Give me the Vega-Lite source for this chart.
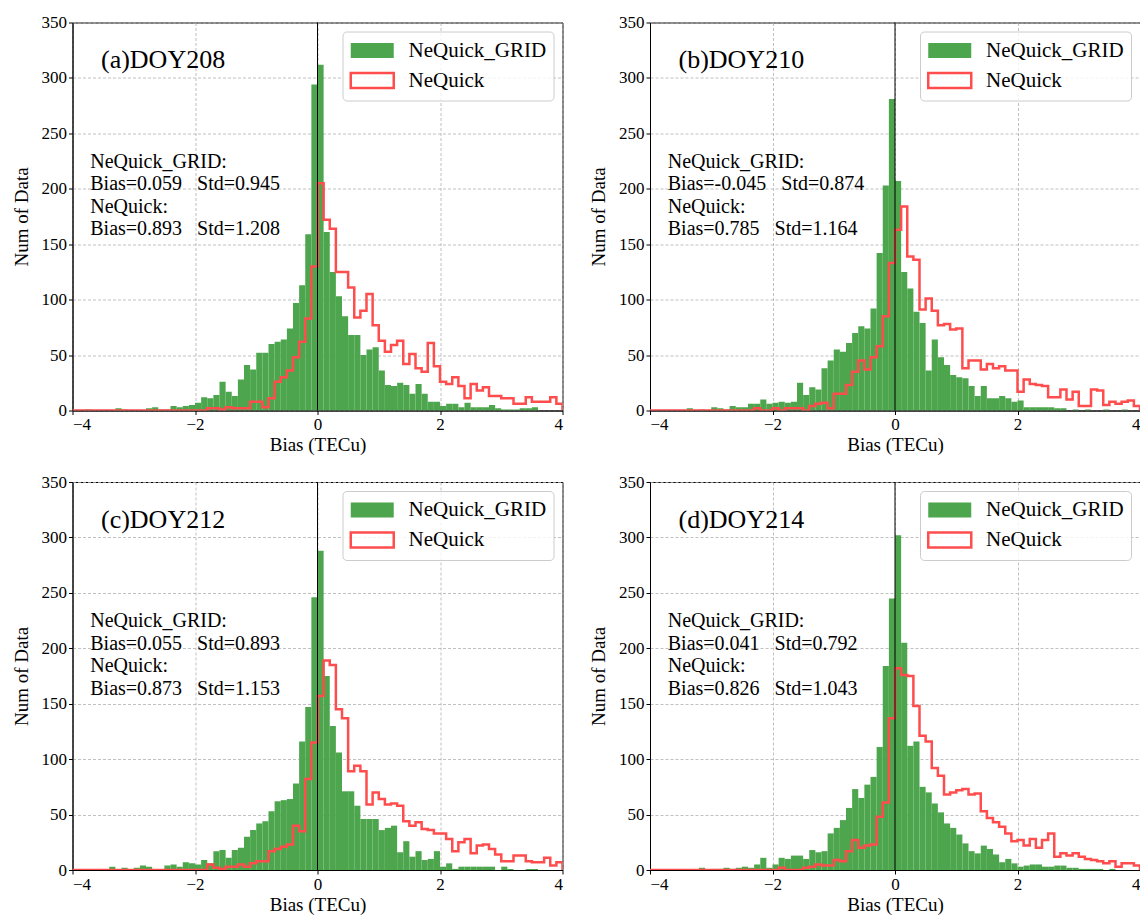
{
"$schema": "https://vega.github.io/schema/vega-lite/v6.json",
"background": "white",
"padding": {"left": 11.5, "top": 12.5, "right": 0, "bottom": 0},
"data": {"values": [
{"b0":-4,"b1":-3.9,"ga":0,"ra":0,"gb":0,"rb":0,"gc":0,"rc":0,"gd":0,"rd":0},
{"b0":-3.9,"b1":-3.8,"ga":0,"ra":0,"gb":0,"rb":0,"gc":0,"rc":0,"gd":0,"rd":0},
{"b0":-3.8,"b1":-3.7,"ga":1,"ra":0,"gb":0,"rb":0,"gc":1,"rc":0,"gd":0,"rd":0},
{"b0":-3.7,"b1":-3.6,"ga":0,"ra":0,"gb":0,"rb":0,"gc":0,"rc":0,"gd":0,"rd":0},
{"b0":-3.6,"b1":-3.5,"ga":0,"ra":0,"gb":0,"rb":0,"gc":0,"rc":0,"gd":0,"rd":0},
{"b0":-3.5,"b1":-3.4,"ga":0,"ra":0,"gb":0,"rb":0,"gc":0,"rc":0,"gd":0,"rd":0},
{"b0":-3.4,"b1":-3.3,"ga":0,"ra":0,"gb":2,"rb":0,"gc":3,"rc":0,"gd":0,"rd":0},
{"b0":-3.3,"b1":-3.2,"ga":2,"ra":0,"gb":0,"rb":0,"gc":0,"rc":0,"gd":0,"rd":0},
{"b0":-3.2,"b1":-3.1,"ga":1,"ra":0,"gb":1,"rb":0,"gc":2,"rc":0,"gd":2,"rd":0},
{"b0":-3.1,"b1":-3,"ga":0,"ra":0,"gb":0,"rb":0,"gc":0,"rc":0,"gd":0,"rd":0},
{"b0":-3,"b1":-2.9,"ga":0,"ra":0,"gb":3,"rb":0,"gc":2,"rc":0,"gd":1,"rd":0},
{"b0":-2.9,"b1":-2.8,"ga":0,"ra":0,"gb":2,"rb":0,"gc":4,"rc":0,"gd":1,"rd":0},
{"b0":-2.8,"b1":-2.7,"ga":2,"ra":0,"gb":1,"rb":0,"gc":3,"rc":0,"gd":2,"rd":0},
{"b0":-2.7,"b1":-2.6,"ga":3,"ra":0,"gb":4,"rb":0,"gc":1,"rc":0,"gd":1,"rd":0},
{"b0":-2.6,"b1":-2.5,"ga":1,"ra":0,"gb":3,"rb":0,"gc":1,"rc":0,"gd":2,"rd":0},
{"b0":-2.5,"b1":-2.4,"ga":1,"ra":0,"gb":3,"rb":0,"gc":4,"rc":0,"gd":3,"rd":0},
{"b0":-2.4,"b1":-2.3,"ga":4,"ra":0,"gb":6,"rb":0,"gc":5,"rc":0,"gd":2,"rd":0},
{"b0":-2.3,"b1":-2.2,"ga":3,"ra":0,"gb":6,"rb":2,"gc":3,"rc":0,"gd":5,"rd":0},
{"b0":-2.2,"b1":-2.1,"ga":4,"ra":0,"gb":10,"rb":0,"gc":7,"rc":0,"gd":11,"rd":0},
{"b0":-2.1,"b1":-2,"ga":5,"ra":0,"gb":6,"rb":0,"gc":6,"rc":0,"gd":2,"rd":0},
{"b0":-2,"b1":-1.9,"ga":7,"ra":0,"gb":7,"rb":2,"gc":5,"rc":0,"gd":5,"rd":0},
{"b0":-1.9,"b1":-1.8,"ga":12,"ra":0,"gb":8,"rb":0,"gc":9,"rc":0,"gd":11,"rd":2},
{"b0":-1.8,"b1":-1.7,"ga":11,"ra":2,"gb":7,"rb":2,"gc":6,"rc":5,"gd":10,"rd":0},
{"b0":-1.7,"b1":-1.6,"ga":14,"ra":2,"gb":8,"rb":2,"gc":17,"rc":2,"gd":13,"rd":0},
{"b0":-1.6,"b1":-1.5,"ga":26,"ra":1,"gb":25,"rb":2,"gc":18,"rc":1,"gd":13,"rd":0},
{"b0":-1.5,"b1":-1.4,"ga":17,"ra":3,"gb":14,"rb":0,"gc":11,"rc":3,"gd":10,"rd":2},
{"b0":-1.4,"b1":-1.3,"ga":13,"ra":2,"gb":21,"rb":4,"gc":18,"rc":3,"gd":18,"rd":3},
{"b0":-1.3,"b1":-1.2,"ga":28,"ra":2,"gb":19,"rb":6,"gc":20,"rc":5,"gd":16,"rd":5},
{"b0":-1.2,"b1":-1.1,"ga":41,"ra":2,"gb":38,"rb":7,"gc":30,"rc":3,"gd":17,"rd":4},
{"b0":-1.1,"b1":-1,"ga":37,"ra":8,"gb":45,"rb":2,"gc":36,"rc":6,"gd":33,"rd":4},
{"b0":-1,"b1":-0.9,"ga":52,"ra":8,"gb":55,"rb":15,"gc":42,"rc":8,"gd":38,"rd":9},
{"b0":-0.9,"b1":-0.8,"ga":52,"ra":3,"gb":53,"rb":15,"gc":44,"rc":8,"gd":45,"rd":8},
{"b0":-0.8,"b1":-0.7,"ga":60,"ra":11,"gb":61,"rb":23,"gc":53,"rc":17,"gd":56,"rd":17},
{"b0":-0.7,"b1":-0.6,"ga":62,"ra":26,"gb":70,"rb":35,"gc":62,"rc":19,"gd":73,"rd":27},
{"b0":-0.6,"b1":-0.5,"ga":64,"ra":30,"gb":76,"rb":45,"gc":63,"rc":21,"gd":65,"rd":20},
{"b0":-0.5,"b1":-0.4,"ga":74,"ra":36,"gb":74,"rb":37,"gc":64,"rc":23,"gd":77,"rd":22},
{"b0":-0.4,"b1":-0.3,"ga":97,"ra":48,"gb":92,"rb":48,"gc":78,"rc":40,"gd":84,"rd":23},
{"b0":-0.3,"b1":-0.2,"ga":113,"ra":62,"gb":142,"rb":58,"gc":116,"rc":35,"gd":111,"rd":48},
{"b0":-0.2,"b1":-0.1,"ga":159,"ra":83,"gb":203,"rb":85,"gc":147,"rc":82,"gd":184,"rd":61},
{"b0":-0.1,"b1":0,"ga":294,"ra":130,"gb":281,"rb":133,"gc":246,"rc":115,"gd":245,"rd":137},
{"b0":0,"b1":0.1,"ga":312,"ra":205,"gb":207,"rb":163,"gc":288,"rc":157,"gd":302,"rd":182},
{"b0":0.1,"b1":0.2,"ga":161,"ra":172,"gb":125,"rb":184,"gc":175,"rc":189,"gd":205,"rd":176},
{"b0":0.2,"b1":0.3,"ga":125,"ra":164,"gb":110,"rb":139,"gc":130,"rc":185,"gd":112,"rd":175},
{"b0":0.3,"b1":0.4,"ga":103,"ra":125,"gb":89,"rb":136,"gc":106,"rc":145,"gd":116,"rd":148},
{"b0":0.4,"b1":0.5,"ga":85,"ra":125,"gb":79,"rb":91,"gc":71,"rc":137,"gd":75,"rd":121},
{"b0":0.5,"b1":0.6,"ga":68,"ra":111,"gb":36,"rb":101,"gc":71,"rc":89,"gd":70,"rd":116},
{"b0":0.6,"b1":0.7,"ga":68,"ra":84,"gb":64,"rb":90,"gc":58,"rc":94,"gd":60,"rd":92},
{"b0":0.7,"b1":0.8,"ga":50,"ra":90,"gb":48,"rb":77,"gc":46,"rc":89,"gd":52,"rd":85},
{"b0":0.8,"b1":0.9,"ga":55,"ra":105,"gb":41,"rb":78,"gc":46,"rc":59,"gd":42,"rd":68},
{"b0":0.9,"b1":1,"ga":57,"ra":77,"gb":32,"rb":73,"gc":46,"rc":70,"gd":38,"rd":70},
{"b0":1,"b1":1.1,"ga":36,"ra":63,"gb":30,"rb":74,"gc":36,"rc":64,"gd":32,"rd":72},
{"b0":1.1,"b1":1.2,"ga":23,"ra":53,"gb":29,"rb":38,"gc":38,"rc":59,"gd":24,"rd":73},
{"b0":1.2,"b1":1.3,"ga":22,"ra":59,"gb":22,"rb":45,"gc":40,"rc":60,"gd":17,"rd":68},
{"b0":1.3,"b1":1.4,"ga":25,"ra":63,"gb":13,"rb":45,"gc":16,"rc":58,"gd":15,"rd":69},
{"b0":1.4,"b1":1.5,"ga":23,"ra":42,"gb":22,"rb":37,"gc":26,"rc":44,"gd":22,"rd":53},
{"b0":1.5,"b1":1.6,"ga":15,"ra":51,"gb":11,"rb":42,"gc":12,"rc":40,"gd":19,"rd":47},
{"b0":1.6,"b1":1.7,"ga":24,"ra":38,"gb":11,"rb":38,"gc":17,"rc":43,"gd":14,"rd":43},
{"b0":1.7,"b1":1.8,"ga":15,"ra":35,"gb":13,"rb":40,"gc":9,"rc":37,"gd":7,"rd":39},
{"b0":1.8,"b1":1.9,"ga":8,"ra":61,"gb":11,"rb":36,"gc":10,"rc":36,"gd":10,"rd":33},
{"b0":1.9,"b1":2,"ga":8,"ra":40,"gb":8,"rb":36,"gc":17,"rc":33,"gd":6,"rd":26},
{"b0":2,"b1":2.1,"ga":4,"ra":26,"gb":9,"rb":17,"gc":3,"rc":33,"gd":3,"rd":27},
{"b0":2.1,"b1":2.2,"ga":6,"ra":24,"gb":3,"rb":28,"gc":6,"rc":28,"gd":4,"rd":22},
{"b0":2.2,"b1":2.3,"ga":6,"ra":30,"gb":3,"rb":24,"gc":1,"rc":17,"gd":5,"rd":28},
{"b0":2.3,"b1":2.4,"ga":3,"ra":22,"gb":3,"rb":23,"gc":3,"rc":25,"gd":5,"rd":20},
{"b0":2.4,"b1":2.5,"ga":7,"ra":11,"gb":3,"rb":22,"gc":3,"rc":28,"gd":3,"rd":27},
{"b0":2.5,"b1":2.6,"ga":3,"ra":24,"gb":3,"rb":12,"gc":3,"rc":15,"gd":3,"rd":33},
{"b0":2.6,"b1":2.7,"ga":3,"ra":18,"gb":2,"rb":12,"gc":3,"rc":22,"gd":4,"rd":12},
{"b0":2.7,"b1":2.8,"ga":3,"ra":21,"gb":2,"rb":19,"gc":3,"rc":23,"gd":4,"rd":15},
{"b0":2.8,"b1":2.9,"ga":5,"ra":13,"gb":0,"rb":10,"gc":3,"rc":19,"gd":2,"rd":13},
{"b0":2.9,"b1":3,"ga":2,"ra":13,"gb":1,"rb":17,"gc":0,"rc":14,"gd":2,"rd":15},
{"b0":3,"b1":3.1,"ga":1,"ra":11,"gb":0,"rb":4,"gc":3,"rc":8,"gd":1,"rd":12},
{"b0":3.1,"b1":3.2,"ga":1,"ra":11,"gb":1,"rb":4,"gc":1,"rc":8,"gd":1,"rd":10},
{"b0":3.2,"b1":3.3,"ga":1,"ra":6,"gb":0,"rb":19,"gc":0,"rc":13,"gd":1,"rd":9},
{"b0":3.3,"b1":3.4,"ga":2,"ra":6,"gb":0,"rb":18,"gc":0,"rc":13,"gd":1,"rd":8},
{"b0":3.4,"b1":3.5,"ga":2,"ra":12,"gb":1,"rb":5,"gc":1,"rc":8,"gd":0,"rd":6},
{"b0":3.5,"b1":3.6,"ga":3,"ra":8,"gb":0,"rb":8,"gc":1,"rc":7,"gd":1,"rd":8},
{"b0":3.6,"b1":3.7,"ga":0,"ra":8,"gb":0,"rb":6,"gc":0,"rc":7,"gd":0,"rd":3},
{"b0":3.7,"b1":3.8,"ga":0,"ra":8,"gb":1,"rb":8,"gc":0,"rc":11,"gd":0,"rd":6},
{"b0":3.8,"b1":3.9,"ga":0,"ra":12,"gb":0,"rb":9,"gc":0,"rc":4,"gd":0,"rd":6},
{"b0":3.9,"b1":4,"ga":0,"ra":6,"gb":0,"rb":4,"gc":0,"rc":7,"gd":0,"rd":4},
{"b0":4,"b1":4.1,"ga":0,"ra":0,"gb":0,"rb":0,"gc":0,"rc":0,"gd":0,"rd":0}
]},
"columns": 2,
"spacing": {"row": 71.5, "column": 87.5},
"bounds": "flush",
"resolve": {"scale": {"fill": "independent", "stroke": "independent"}, "legend": {"fill": "independent", "stroke": "independent"}},
"concat": [
{"width": 490, "height": 388, "layer": [
 {"mark": {"type": "bar", "clip": true}, "encoding": {
  "x": {"field": "b0", "type": "quantitative", "scale": {"domain": [-4, 4], "nice": false, "zero": false}, "axis": {"values": [-4, -2, 0, 2, 4], "format": "d", "title": "Bias (TECu)"}},
  "x2": {"field": "b1"},
  "y": {"field": "ga", "type": "quantitative", "scale": {"domain": [0, 350], "nice": false}, "axis": {"values": [0, 50, 100, 150, 200, 250, 300, 350], "format": "d", "title": "Num of Data"}},
  "y2": {"datum": 0},
  "fill": {"datum": "NeQuick_GRID", "type": "nominal", "scale": {"domain": ["NeQuick_GRID", "NeQuick"], "range": ["#4da64d", "transparent"]},
   "legend": {"orient": "top-right", "offset": 9, "title": null, "symbolType": "M-1,-0.7H3V0.7H-1Z", "symbolSize": 462, "symbolStrokeWidth": 2.5, "symbolOpacity": 1, "labelOffset": 35, "labelFont": "Liberation Serif", "labelFontSize": 21, "labelColor": "black", "rowPadding": 4, "padding": 7, "fillColor": "rgba(255,255,255,0.8)", "strokeColor": "#cccccc", "cornerRadius": 4}}
 }},
 {"mark": {"type": "line", "interpolate": "step-after", "strokeWidth": 2.5, "clip": true}, "encoding": {
  "x": {"field": "b0", "type": "quantitative"}, "y": {"field": "ra", "type": "quantitative"},
  "stroke": {"datum": "NeQuick", "type": "nominal", "scale": {"domain": ["NeQuick_GRID", "NeQuick"], "range": ["transparent", "#ff4d4d"]},
   "legend": {"orient": "top-right", "offset": 9, "title": null, "symbolType": "M-1,-0.7H3V0.7H-1Z", "symbolSize": 462, "symbolStrokeWidth": 2.5, "symbolOpacity": 1, "labelOffset": 35, "labelFont": "Liberation Serif", "labelFontSize": 21, "labelColor": "black", "rowPadding": 4, "padding": 7, "fillColor": "rgba(255,255,255,0.8)", "strokeColor": "#cccccc", "cornerRadius": 4}}}},
 {"data": {"values": [{}]}, "mark": {"type": "rule", "color": "black", "strokeWidth": 1}, "encoding": {"x": {"datum": 0}}},
 {"data": {"values": [{}]}, "mark": {"type": "text", "text": "(a)DOY208", "font": "Liberation Serif", "fontSize": 26, "align": "left", "baseline": "middle", "color": "black"}, "encoding": {"x": {"datum": -3.535}, "y": {"datum": 316}}},
 {"data": {"values": [{}]}, "mark": {"type": "text", "text": ["NeQuick_GRID:", "Bias=0.059\u00a0\u00a0 Std=0.945", "NeQuick:", "Bias=0.893\u00a0\u00a0 Std=1.208"], "font": "Liberation Serif", "fontSize": 20, "lineHeight": 22.5, "align": "left", "baseline": "middle", "color": "black"}, "encoding": {"x": {"datum": -3.71}, "y": {"datum": 224.3}}}
]},
{"width": 490, "height": 388, "layer": [
 {"mark": {"type": "bar", "clip": true}, "encoding": {
  "x": {"field": "b0", "type": "quantitative", "scale": {"domain": [-4, 4], "nice": false, "zero": false}, "axis": {"values": [-4, -2, 0, 2, 4], "format": "d", "title": "Bias (TECu)"}},
  "x2": {"field": "b1"},
  "y": {"field": "gb", "type": "quantitative", "scale": {"domain": [0, 350], "nice": false}, "axis": {"values": [0, 50, 100, 150, 200, 250, 300, 350], "format": "d", "title": "Num of Data"}},
  "y2": {"datum": 0},
  "fill": {"datum": "NeQuick_GRID", "type": "nominal", "scale": {"domain": ["NeQuick_GRID", "NeQuick"], "range": ["#4da64d", "transparent"]},
   "legend": {"orient": "top-right", "offset": 9, "title": null, "symbolType": "M-1,-0.7H3V0.7H-1Z", "symbolSize": 462, "symbolStrokeWidth": 2.5, "symbolOpacity": 1, "labelOffset": 35, "labelFont": "Liberation Serif", "labelFontSize": 21, "labelColor": "black", "rowPadding": 4, "padding": 7, "fillColor": "rgba(255,255,255,0.8)", "strokeColor": "#cccccc", "cornerRadius": 4}}
 }},
 {"mark": {"type": "line", "interpolate": "step-after", "strokeWidth": 2.5, "clip": true}, "encoding": {
  "x": {"field": "b0", "type": "quantitative"}, "y": {"field": "rb", "type": "quantitative"},
  "stroke": {"datum": "NeQuick", "type": "nominal", "scale": {"domain": ["NeQuick_GRID", "NeQuick"], "range": ["transparent", "#ff4d4d"]},
   "legend": {"orient": "top-right", "offset": 9, "title": null, "symbolType": "M-1,-0.7H3V0.7H-1Z", "symbolSize": 462, "symbolStrokeWidth": 2.5, "symbolOpacity": 1, "labelOffset": 35, "labelFont": "Liberation Serif", "labelFontSize": 21, "labelColor": "black", "rowPadding": 4, "padding": 7, "fillColor": "rgba(255,255,255,0.8)", "strokeColor": "#cccccc", "cornerRadius": 4}}}},
 {"data": {"values": [{}]}, "mark": {"type": "rule", "color": "black", "strokeWidth": 1}, "encoding": {"x": {"datum": 0}}},
 {"data": {"values": [{}]}, "mark": {"type": "text", "text": "(b)DOY210", "font": "Liberation Serif", "fontSize": 26, "align": "left", "baseline": "middle", "color": "black"}, "encoding": {"x": {"datum": -3.535}, "y": {"datum": 316}}},
 {"data": {"values": [{}]}, "mark": {"type": "text", "text": ["NeQuick_GRID:", "Bias=-0.045\u00a0\u00a0 Std=0.874", "NeQuick:", "Bias=0.785\u00a0\u00a0 Std=1.164"], "font": "Liberation Serif", "fontSize": 20, "lineHeight": 22.5, "align": "left", "baseline": "middle", "color": "black"}, "encoding": {"x": {"datum": -3.71}, "y": {"datum": 224.3}}}
]},
{"width": 490, "height": 388, "layer": [
 {"mark": {"type": "bar", "clip": true}, "encoding": {
  "x": {"field": "b0", "type": "quantitative", "scale": {"domain": [-4, 4], "nice": false, "zero": false}, "axis": {"values": [-4, -2, 0, 2, 4], "format": "d", "title": "Bias (TECu)"}},
  "x2": {"field": "b1"},
  "y": {"field": "gc", "type": "quantitative", "scale": {"domain": [0, 350], "nice": false}, "axis": {"values": [0, 50, 100, 150, 200, 250, 300, 350], "format": "d", "title": "Num of Data"}},
  "y2": {"datum": 0},
  "fill": {"datum": "NeQuick_GRID", "type": "nominal", "scale": {"domain": ["NeQuick_GRID", "NeQuick"], "range": ["#4da64d", "transparent"]},
   "legend": {"orient": "top-right", "offset": 9, "title": null, "symbolType": "M-1,-0.7H3V0.7H-1Z", "symbolSize": 462, "symbolStrokeWidth": 2.5, "symbolOpacity": 1, "labelOffset": 35, "labelFont": "Liberation Serif", "labelFontSize": 21, "labelColor": "black", "rowPadding": 4, "padding": 7, "fillColor": "rgba(255,255,255,0.8)", "strokeColor": "#cccccc", "cornerRadius": 4}}
 }},
 {"mark": {"type": "line", "interpolate": "step-after", "strokeWidth": 2.5, "clip": true}, "encoding": {
  "x": {"field": "b0", "type": "quantitative"}, "y": {"field": "rc", "type": "quantitative"},
  "stroke": {"datum": "NeQuick", "type": "nominal", "scale": {"domain": ["NeQuick_GRID", "NeQuick"], "range": ["transparent", "#ff4d4d"]},
   "legend": {"orient": "top-right", "offset": 9, "title": null, "symbolType": "M-1,-0.7H3V0.7H-1Z", "symbolSize": 462, "symbolStrokeWidth": 2.5, "symbolOpacity": 1, "labelOffset": 35, "labelFont": "Liberation Serif", "labelFontSize": 21, "labelColor": "black", "rowPadding": 4, "padding": 7, "fillColor": "rgba(255,255,255,0.8)", "strokeColor": "#cccccc", "cornerRadius": 4}}}},
 {"data": {"values": [{}]}, "mark": {"type": "rule", "color": "black", "strokeWidth": 1}, "encoding": {"x": {"datum": 0}}},
 {"data": {"values": [{}]}, "mark": {"type": "text", "text": "(c)DOY212", "font": "Liberation Serif", "fontSize": 26, "align": "left", "baseline": "middle", "color": "black"}, "encoding": {"x": {"datum": -3.535}, "y": {"datum": 316}}},
 {"data": {"values": [{}]}, "mark": {"type": "text", "text": ["NeQuick_GRID:", "Bias=0.055\u00a0\u00a0 Std=0.893", "NeQuick:", "Bias=0.873\u00a0\u00a0 Std=1.153"], "font": "Liberation Serif", "fontSize": 20, "lineHeight": 22.5, "align": "left", "baseline": "middle", "color": "black"}, "encoding": {"x": {"datum": -3.71}, "y": {"datum": 224.3}}}
]},
{"width": 490, "height": 388, "layer": [
 {"mark": {"type": "bar", "clip": true}, "encoding": {
  "x": {"field": "b0", "type": "quantitative", "scale": {"domain": [-4, 4], "nice": false, "zero": false}, "axis": {"values": [-4, -2, 0, 2, 4], "format": "d", "title": "Bias (TECu)"}},
  "x2": {"field": "b1"},
  "y": {"field": "gd", "type": "quantitative", "scale": {"domain": [0, 350], "nice": false}, "axis": {"values": [0, 50, 100, 150, 200, 250, 300, 350], "format": "d", "title": "Num of Data"}},
  "y2": {"datum": 0},
  "fill": {"datum": "NeQuick_GRID", "type": "nominal", "scale": {"domain": ["NeQuick_GRID", "NeQuick"], "range": ["#4da64d", "transparent"]},
   "legend": {"orient": "top-right", "offset": 9, "title": null, "symbolType": "M-1,-0.7H3V0.7H-1Z", "symbolSize": 462, "symbolStrokeWidth": 2.5, "symbolOpacity": 1, "labelOffset": 35, "labelFont": "Liberation Serif", "labelFontSize": 21, "labelColor": "black", "rowPadding": 4, "padding": 7, "fillColor": "rgba(255,255,255,0.8)", "strokeColor": "#cccccc", "cornerRadius": 4}}
 }},
 {"mark": {"type": "line", "interpolate": "step-after", "strokeWidth": 2.5, "clip": true}, "encoding": {
  "x": {"field": "b0", "type": "quantitative"}, "y": {"field": "rd", "type": "quantitative"},
  "stroke": {"datum": "NeQuick", "type": "nominal", "scale": {"domain": ["NeQuick_GRID", "NeQuick"], "range": ["transparent", "#ff4d4d"]},
   "legend": {"orient": "top-right", "offset": 9, "title": null, "symbolType": "M-1,-0.7H3V0.7H-1Z", "symbolSize": 462, "symbolStrokeWidth": 2.5, "symbolOpacity": 1, "labelOffset": 35, "labelFont": "Liberation Serif", "labelFontSize": 21, "labelColor": "black", "rowPadding": 4, "padding": 7, "fillColor": "rgba(255,255,255,0.8)", "strokeColor": "#cccccc", "cornerRadius": 4}}}},
 {"data": {"values": [{}]}, "mark": {"type": "rule", "color": "black", "strokeWidth": 1}, "encoding": {"x": {"datum": 0}}},
 {"data": {"values": [{}]}, "mark": {"type": "text", "text": "(d)DOY214", "font": "Liberation Serif", "fontSize": 26, "align": "left", "baseline": "middle", "color": "black"}, "encoding": {"x": {"datum": -3.535}, "y": {"datum": 316}}},
 {"data": {"values": [{}]}, "mark": {"type": "text", "text": ["NeQuick_GRID:", "Bias=0.041\u00a0\u00a0 Std=0.792", "NeQuick:", "Bias=0.826\u00a0\u00a0 Std=1.043"], "font": "Liberation Serif", "fontSize": 20, "lineHeight": 22.5, "align": "left", "baseline": "middle", "color": "black"}, "encoding": {"x": {"datum": -3.71}, "y": {"datum": 224.3}}}
]}
],
"config": {
 "view": {"stroke": "black", "strokeWidth": 1},
 "axis": {"labelFont": "Liberation Serif", "labelFontSize": 17, "labelColor": "black", "titleFont": "Liberation Serif", "titleFontSize": 19, "titleFontWeight": "normal", "titleColor": "black", "tickColor": "black", "tickSize": 4, "domainColor": "black", "gridColor": "#b0b0b0", "gridDash": [3, 2], "gridWidth": 0.8, "labelPadding": 2},
 "axisX": {"titlePadding": 3},
 "axisY": {"titlePadding": 10}
}
}
